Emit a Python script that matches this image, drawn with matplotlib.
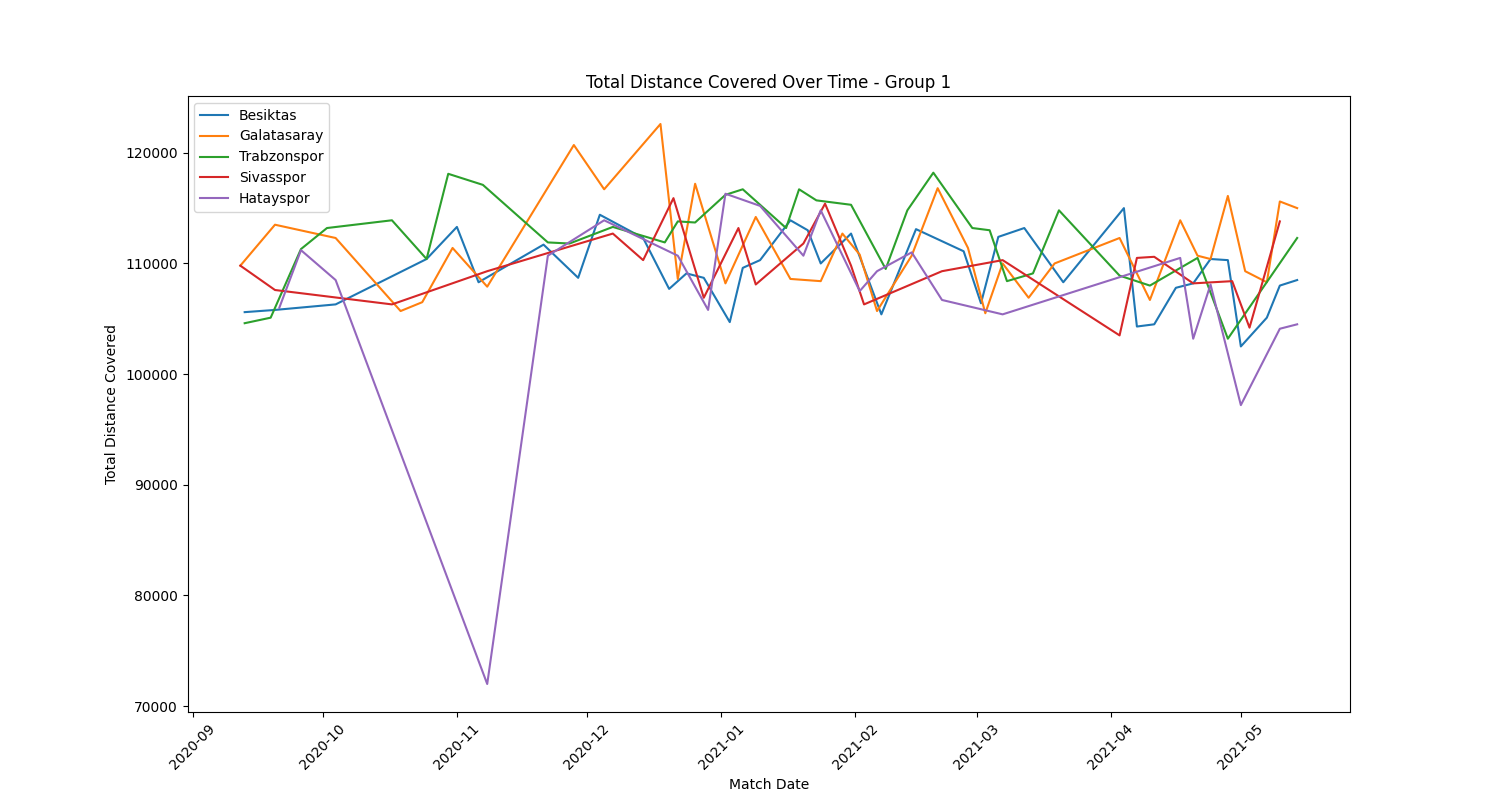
import matplotlib
matplotlib.use('Agg')
import matplotlib.pyplot as plt
import pandas as pd

# Dane (data meczu, dystans)
besiktas_dates = ['2020-09-13', '2020-09-20', '2020-10-04', '2020-10-25', '2020-11-01', '2020-11-06',
                  '2020-11-21', '2020-11-29', '2020-12-04', '2020-12-14', '2020-12-20', '2020-12-24',
                  '2020-12-28', '2021-01-03', '2021-01-06', '2021-01-10', '2021-01-17', '2021-01-21',
                  '2021-01-24', '2021-01-31', '2021-02-07', '2021-02-15', '2021-02-26', '2021-03-02',
                  '2021-03-06', '2021-03-12', '2021-03-21', '2021-04-04', '2021-04-07', '2021-04-11',
                  '2021-04-16', '2021-04-20', '2021-04-24', '2021-04-28', '2021-05-01', '2021-05-07',
                  '2021-05-10', '2021-05-14']
besiktas_vals = [105600, 105800, 106300, 110400, 113300, 108300,
                 111700, 108700, 114400, 112300, 107700, 109100,
                 108700, 104700, 109600, 110300, 113900, 113000,
                 110000, 112700, 105400, 113100, 111100, 106400,
                 112400, 113200, 108300, 115000, 104300, 104500,
                 107800, 108200, 110400, 110300, 102500, 105100,
                 108000, 108500]

galatasaray_dates = ['2020-09-12', '2020-09-20', '2020-10-04', '2020-10-19', '2020-10-24', '2020-10-31',
                     '2020-11-08', '2020-11-28', '2020-12-05', '2020-12-18', '2020-12-22', '2020-12-26',
                     '2021-01-02', '2021-01-09', '2021-01-17', '2021-01-24', '2021-01-29', '2021-02-02',
                     '2021-02-06', '2021-02-14', '2021-02-20', '2021-02-27', '2021-03-03', '2021-03-07',
                     '2021-03-13', '2021-03-19', '2021-04-03', '2021-04-10', '2021-04-17', '2021-04-21',
                     '2021-04-24', '2021-04-28', '2021-05-02', '2021-05-07', '2021-05-10', '2021-05-14']
galatasaray_vals = [109800, 113500, 112300, 105700, 106500, 111400,
                    107900, 120700, 116700, 122600, 108600, 117200,
                    108200, 114200, 108600, 108400, 112700, 110800,
                    105700, 110700, 116800, 111400, 105500, 110000,
                    106900, 110000, 112300, 106700, 113900, 110700,
                    110400, 116100, 109300, 108300, 115600, 115000]

trabzonspor_dates = ['2020-09-13', '2020-09-19', '2020-09-26', '2020-10-02', '2020-10-17', '2020-10-25',
                     '2020-10-30', '2020-11-07', '2020-11-22', '2020-11-27', '2020-12-07', '2020-12-19',
                     '2020-12-22', '2020-12-26', '2021-01-02', '2021-01-06', '2021-01-16', '2021-01-19',
                     '2021-01-23', '2021-01-31', '2021-02-08', '2021-02-13', '2021-02-19', '2021-02-28',
                     '2021-03-04', '2021-03-08', '2021-03-14', '2021-03-20', '2021-04-03', '2021-04-10',
                     '2021-04-21', '2021-04-28', '2021-05-14']
trabzonspor_vals = [104600, 105100, 111300, 113200, 113900, 110400,
                    118100, 117100, 111900, 111800, 113300, 111900,
                    113800, 113700, 116200, 116700, 113200, 116700,
                    115700, 115300, 109500, 114800, 118200, 113200,
                    113000, 108400, 109100, 114800, 108900, 108000,
                    110500, 103200, 112300]

sivasspor_dates = ['2020-09-12', '2020-09-20', '2020-10-17', '2020-11-08', '2020-12-07', '2020-12-14',
                   '2020-12-21', '2020-12-28', '2021-01-05', '2021-01-09', '2021-01-20', '2021-01-25',
                   '2021-01-31', '2021-02-03', '2021-02-21', '2021-03-07', '2021-04-03', '2021-04-07',
                   '2021-04-11', '2021-04-20', '2021-04-29', '2021-05-03', '2021-05-10']
sivasspor_vals = [109800, 107600, 106300, 109300, 112700, 110300,
                  115900, 106900, 113200, 108100, 111800, 115400,
                  109800, 106300, 109300, 110300, 103500, 110500,
                  110600, 108200, 108400, 104200, 113800]

hatayspor_dates = ['2020-09-21', '2020-09-26', '2020-10-04', '2020-11-08', '2020-11-22', '2020-12-05',
                   '2020-12-22', '2020-12-29', '2021-01-02', '2021-01-10', '2021-01-20', '2021-01-24',
                   '2021-02-02', '2021-02-06', '2021-02-14', '2021-02-21', '2021-03-07', '2021-04-17',
                   '2021-04-20', '2021-04-24', '2021-05-01', '2021-05-10', '2021-05-14']
hatayspor_vals = [106000, 111200, 108500, 72000, 110700, 113900,
                  110700, 105800, 116300, 115200, 110700, 114800,
                  107500, 109300, 111000, 106700, 105400, 110500,
                  103200, 108100, 97200, 104100, 104500]

teams = ['Besiktas', 'Galatasaray', 'Trabzonspor', 'Sivasspor', 'Hatayspor']
all_dates = [besiktas_dates, galatasaray_dates, trabzonspor_dates, sivasspor_dates, hatayspor_dates]
all_vals = [besiktas_vals, galatasaray_vals, trabzonspor_vals, sivasspor_vals, hatayspor_vals]

fig, ax = plt.subplots(figsize=(15, 8), dpi=100)

for team, dates, vals in zip(teams, all_dates, all_vals):
    ax.plot(pd.to_datetime(dates), vals, label=team)

ax.set_title('Total Distance Covered Over Time - Group 1')
ax.set_xlabel('Match Date')
ax.set_ylabel('Total Distance Covered')
ax.legend(loc='upper left')
plt.xticks(rotation=45)

fig.savefig('out.png')
